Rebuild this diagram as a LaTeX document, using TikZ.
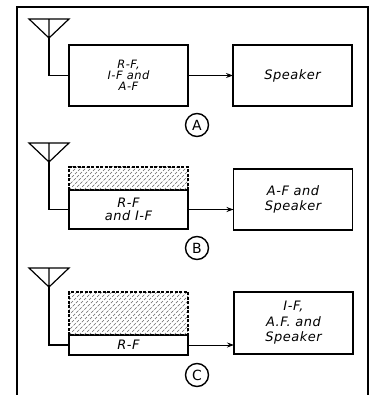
\documentclass[tikz,border=0pt]{standalone}
\usepackage{fontspec}
\newfontfamily\letterfont[LetterSpace=4]{DejaVu Sans}
\usetikzlibrary{arrows.meta}
\tikzset{
  stage/.style={draw, line width=1.6pt, minimum width=119pt, inner sep=0pt, outer sep=0pt, align=center,
    font=\letterfont\itshape\fontsize{13}{14.5}\selectfont},
  tag/.style={draw, circle, line width=1.4pt, minimum size=23pt, inner sep=0pt,
    font=\letterfont\fontsize{14}{14}\selectfont},
  aerial/.style={line width=1.2pt, line join=miter},
  feed/.style={line width=0.9pt, -{Stealth[length=7pt,width=5pt]}},
  shield/.style={line width=1.1pt, dash pattern=on 3pt off 1.5pt},
  hatch/.style={black!60, line width=0.6pt, dash pattern=on 3pt off 1.5pt},
}
\begin{document}
\begin{tikzpicture}[x=1pt,y=-1pt]
\useasboundingbox (0,0) rectangle (371,395);
% frame
\draw[line width=1.1pt] (17,395) -- (17,7) -- (368,7) -- (368,395);

% A
\node[stage, minimum height=61pt, font=\letterfont\itshape\fontsize{11.5}{11}\selectfont] (a-rf) at (128.5,75.5) {R-F,\\I-F and\\A-F};
\node[stage, minimum height=61pt] (a-spk) at (292.5,75.5) {Speaker};
\node[tag] (a-tag) at (197,125) {A};
\coordinate (a-ant) at (49,38);
\draw[aerial] (a-ant) -- ++(-20,-19) -- ++(40,0) -- cycle (a-ant) -- ++(0,-19);
\draw[aerial] (a-ant) |- (a-rf.west);
\draw[feed] (a-rf) -- (a-spk);

% B
\node[stage, minimum height=39pt, font=\letterfont\itshape\fontsize{13}{13}\selectfont] (b-rf) at (128.5,209.5) {R-F\\and I-F};
\node[stage, minimum height=61pt] (b-spk) at (293,199.5) {A-F and\\Speaker};
\node[tag] (b-tag) at (197,248) {B};
\begin{scope}
  \clip (b-rf.north west) rectangle ++(119,-23);
  \foreach \i in {-30,-25,...,120}
    \draw[hatch] ([xshift=\i pt]b-rf.north west) -- ++(30,-30);
\end{scope}
\draw[shield] (b-rf.north west) -- ++(0,-23) -- ++(119,0) -- ++(0,23);
\coordinate (b-ant) at (49,162);
\draw[aerial] (b-ant) -- ++(-20,-19) -- ++(40,0) -- cycle (b-ant) -- ++(0,-19);
\draw[aerial] (b-ant) |- (b-rf.west);
\draw[feed] (b-rf.east) -- (b-rf.east -| b-spk.west);

% C
\node[stage, minimum height=20pt] (c-rf) at (128.5,345) {R-F};
\node[stage, minimum height=62pt, font=\letterfont\itshape\fontsize{13}{15.5}\selectfont] (c-spk) at (293.5,323) {I-F,\\A.F. and\\Speaker};
\node[tag] (c-tag) at (197,375) {C};
\begin{scope}
  \clip (c-rf.north west) rectangle ++(119,-43);
  \foreach \i in {-45,-40,...,120}
    \draw[hatch] ([xshift=\i pt]c-rf.north west) -- ++(45,-45);
\end{scope}
\draw[shield] (c-rf.north west) -- ++(0,-43) -- ++(119,0) -- ++(0,43);
\coordinate (c-ant) at (49,287);
\draw[aerial] (c-ant) -- ++(-20,-19) -- ++(40,0) -- cycle (c-ant) -- ++(0,-19);
\draw[aerial] (c-ant) |- (c-rf.west);
\draw[feed] (c-rf.east) -- (c-rf.east -| c-spk.west);
\end{tikzpicture}
\end{document}
